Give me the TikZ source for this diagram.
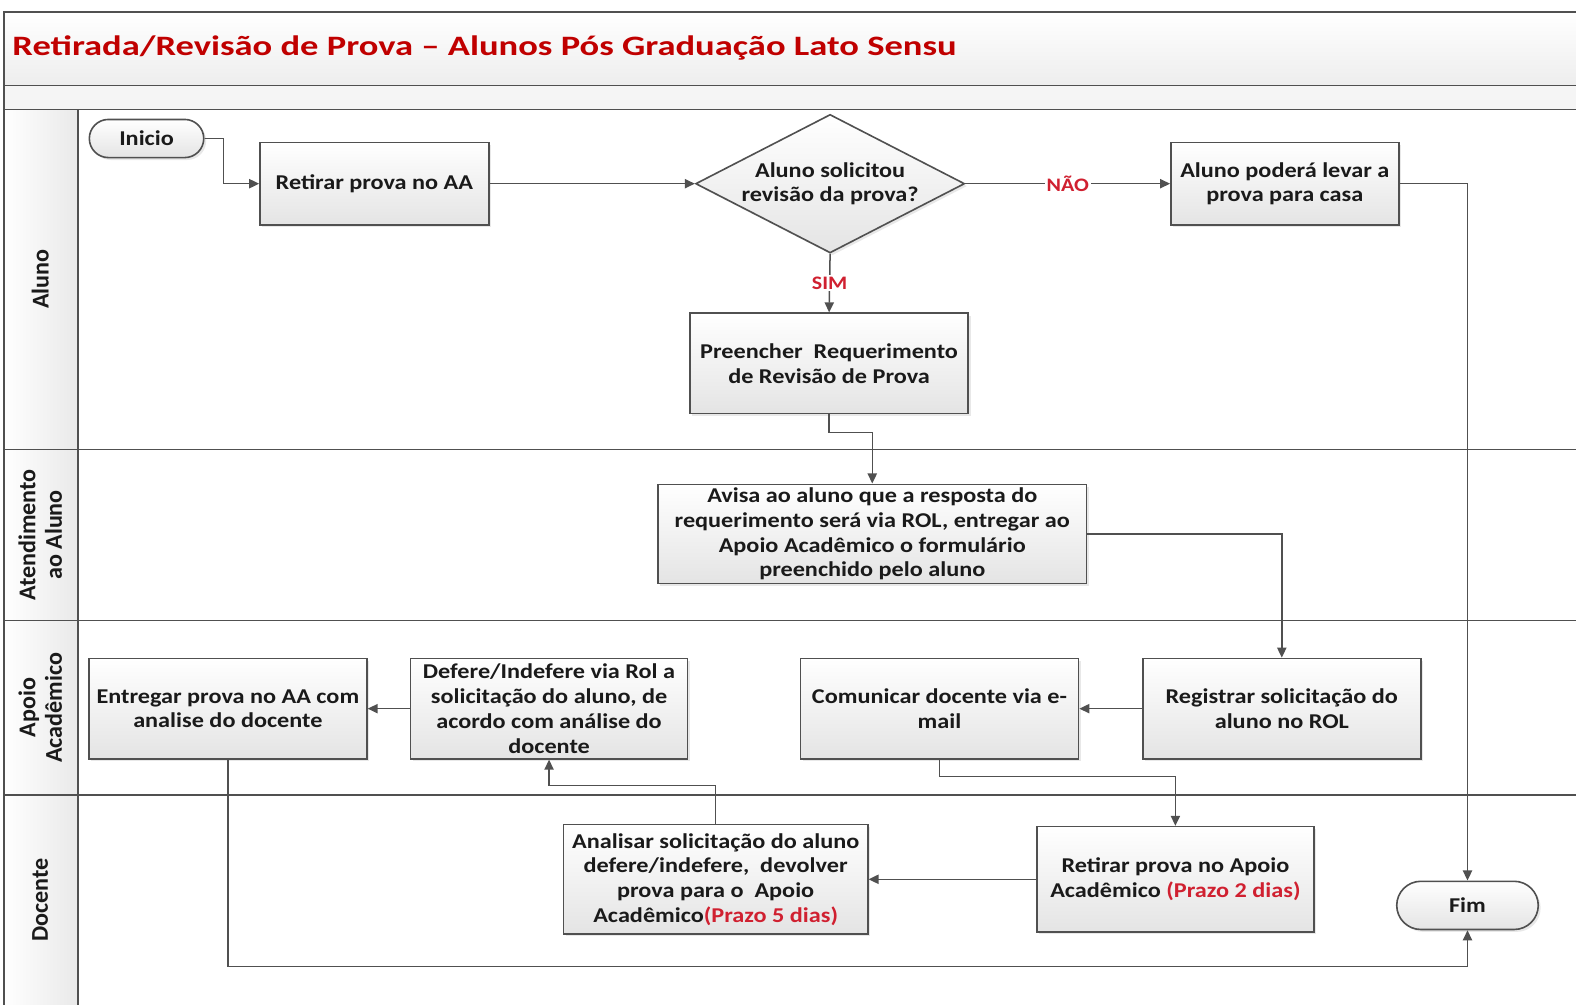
\documentclass[tikz,border=0pt]{standalone}
\usepackage{fontspec}
\setmainfont{Carlito}[FakeStretch=1.15]
\newfontfamily\lanefont{Carlito}
\newfontfamily\titlefont{Carlito}[FakeStretch=1.3]
\usetikzlibrary{shapes.geometric,shadows,arrows.meta}
\definecolor{ln}{HTML}{505050}
\definecolor{tx}{HTML}{1A1A1A}
\definecolor{ttl}{HTML}{C00000}
\definecolor{lab}{HTML}{D02030}
\definecolor{shadeb}{HTML}{E4E4E4}
\definecolor{lanebg}{HTML}{E9E9E9}
\newcommand{\rd}[1]{\textcolor{lab}{#1}}
\tikzset{
  boxfont/.style={font=\bfseries\fontsize{10.5}{12.3}\selectfont, text=tx},
  box/.style 2 args={draw=ln, line width=0.8pt, top color=white, bottom color=shadeb,
    minimum width=#1, minimum height=#2, inner sep=1pt, align=center, boxfont,
    drop shadow={opacity=0.18, shadow xshift=1.2pt, shadow yshift=-1.2pt}},
  pill/.style 2 args={box={#1}{#2}, rounded corners=#2/2},
  decision/.style={diamond, draw=ln, line width=0.8pt, top color=white, bottom color=shadeb,
    minimum width=134pt, minimum height=69pt, inner sep=0pt, aspect=1.93, align=center, boxfont,
    drop shadow={opacity=0.18, shadow xshift=1.2pt, shadow yshift=-1.2pt}},
  arr/.style={draw=ln, line width=0.75pt, -{Triangle[length=5pt,width=4.6pt]}},
  frame/.style={draw=ln, line width=0.8pt},
  lanelabel/.style={rotate=90, align=center, font=\lanefont\bfseries\fontsize{12}{13.2}\selectfont, text=tx},
  yn/.style={fill=white, inner sep=1pt, text=lab, font=\bfseries\fontsize{9.5}{10}\selectfont},
}
\begin{document}
\begin{tikzpicture}[x=0.5pt,y=-0.5pt]
\useasboundingbox (0,0) rectangle (1570.1,1001.2);
% background bands
\fill[white] (0,0) rectangle (1610,1030);
\shade[top color=white, bottom color=lanebg!80] (4,12) rectangle (1610,85);
\fill[gray!8] (4,85) rectangle (1610,109);
\shade[left color=white, right color=lanebg] (4,109) rectangle (78,1030);
% frame lines
\draw[frame] (1610,12) -- (4,12) -- (4,1030);
\draw[frame] (4,85) -- (1610,85);
\draw[frame] (4,109) -- (1610,109);
\draw[frame] (78,109) -- (78,1030);
\draw[frame] (4,448) -- (1610,448);
\draw[frame] (4,618) -- (1610,618);
\draw[frame] (4,792) -- (1610,792);
% title
\node[anchor=west, text=ttl, font=\titlefont\bfseries\fontsize{14}{16}\selectfont, inner sep=0pt] (title) at (12,48) {Retirada/Revisão de Prova – Alunos Pós Graduação Lato Sensu};
% lane labels
\node[lanelabel] (laneA) at (40,278) {Aluno};
\node[lanelabel] (laneB) at (40,533) {Atendimento\\ao Aluno};
\node[lanelabel] (laneC) at (40,705) {Apoio\\Acadêmico};
\node[lanelabel] (laneD) at (40,897) {Docente};
% nodes
\node[pill={57pt}{19pt}] (inicio) at (146,138) {Inicio};
\node[box={114pt}{41pt}] (retirar) at (373,183) {Retirar prova no AA};
\node[decision] (dec) at (827,183) {Aluno solicitou\\revisão da prova?};
\node[box={113.5pt}{41pt}] (poder) at (1280,183) {Aluno poderá levar a\\prova para casa};
\node[box={138.5pt}{50pt}] (preencher) at (826,362) {Preencher~ Requerimento\\de Revisão de Prova};
\node[box={213.5pt}{49.5pt}] (avisa) at (869,532) {Avisa ao aluno que a resposta do\\requerimento será via ROL, entregar ao\\Apoio Acadêmico o formulário\\preenchido pelo aluno};
\node[box={138.5pt}{50pt}] (entregar) at (227,706) {Entregar prova no AA com\\analise do docente};
\node[box={138pt}{50pt}] (defere) at (547,706) {Defere/Indefere via Rol a\\solicitação do aluno, de\\acordo com análise do\\docente};
\node[box={138.5pt}{50pt}] (comunicar) at (936,706) {Comunicar docente via e-\\mail};
\node[box={138.5pt}{50pt}] (registrar) at (1277,706) {Registrar solicitação do\\aluno no ROL};
\node[box={151.5pt}{54.5pt}] (analisar) at (713,876) {Analisar solicitação do aluno\\defere/indefere,~ devolver\\prova para o~ Apoio\\Acadêmico\rd{(Prazo 5 dias)}};
\node[box={138pt}{52.5pt}] (retap) at (1171,876) {Retirar prova no Apoio\\Acadêmico \rd{(Prazo 2 dias)}};
\node[pill={70.5pt}{24pt}] (fim) at (1462,902) {Fim};
% connectors
\draw[arr] (inicio.east) -- ++(19,0) |- (retirar.west);
\draw[arr] (retirar.east) -- (dec.west);
\draw[arr] (dec.east) -- node[yn] (nao) {NÃO} (poder.west);
\draw[arr] (dec.south) -- node[yn] (sim) {SIM} (preencher.north);
\draw[arr] (poder.east) -| (fim.north);
\draw[arr] (preencher.south) -- ++(0,18) -| (avisa.north);
\draw[arr] (avisa.east) -| (registrar.north);
\draw[arr] (registrar.west) -- (comunicar.east);
\draw[arr] (comunicar.south) -- ++(0,17) -| (retap.north);
\draw[arr] (retap.west) -- (analisar.east);
\draw[arr] (analisar.north) -- ++(0,-38) -| (defere.south);
\draw[arr] (defere.west) -- (entregar.east);
\draw[arr] (entregar.south) -- ++(0,206) -| (fim.south);
\end{tikzpicture}
\end{document}
